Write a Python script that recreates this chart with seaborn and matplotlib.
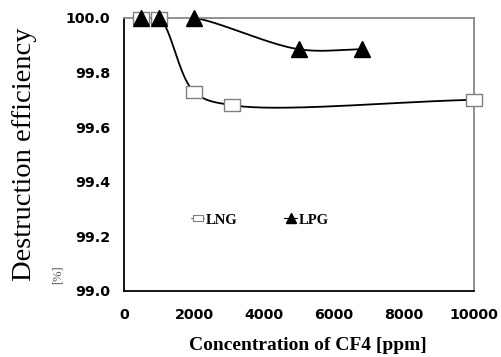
import numpy as np
import pandas as pd
import matplotlib
matplotlib.use("Agg")
import matplotlib.pyplot as plt
import seaborn as sns

# ---- data ----
lng_x = [500, 1000, 2000, 3100, 10000]
lng_y = [100.0, 100.0, 99.73, 99.68, 99.70]
lpg_x = [500, 1000, 2000, 5000, 6800]
lpg_y = [100.0, 100.0, 100.0, 99.885, 99.885]
x_ticks = [0, 2000, 4000, 6000, 8000, 10000]
y_ticks = [99.0, 99.2, 99.4, 99.6, 99.8, 100.0]


def smooth(xs, ys, n=40, alpha=0.5):
    """Centripetal Catmull-Rom spline through the data points (smoothed line)."""
    sx, sy = 350.0 / 10000.0, 273.0
    p = np.column_stack([np.array(xs) * sx, np.array(ys) * sy]).astype(float)
    p = np.vstack([2 * p[0] - p[1], p, 2 * p[-1] - p[-2]])
    out = []
    for i in range(1, len(p) - 2):
        P0, P1, P2, P3 = p[i - 1], p[i], p[i + 1], p[i + 2]
        t0 = 0.0
        t1 = t0 + max(np.linalg.norm(P1 - P0), 1e-6) ** alpha
        t2 = t1 + max(np.linalg.norm(P2 - P1), 1e-6) ** alpha
        t3 = t2 + max(np.linalg.norm(P3 - P2), 1e-6) ** alpha
        t = np.linspace(t1, t2, n)[:, None]
        A1 = (t1 - t) / (t1 - t0) * P0 + (t - t0) / (t1 - t0) * P1
        A2 = (t2 - t) / (t2 - t1) * P1 + (t - t1) / (t2 - t1) * P2
        A3 = (t3 - t) / (t3 - t2) * P2 + (t - t2) / (t3 - t2) * P3
        B1 = (t2 - t) / (t2 - t0) * A1 + (t - t0) / (t2 - t0) * A2
        B2 = (t3 - t) / (t3 - t1) * A2 + (t - t1) / (t3 - t1) * A3
        C = (t2 - t) / (t2 - t1) * B1 + (t - t1) / (t2 - t1) * B2
        out.append(C)
    c = np.vstack(out)
    return c[:, 0] / sx, c[:, 1] / sy


sns.set_theme(style="white")
plt.rcParams['font.family'] = ['DejaVu Sans']
plt.rcParams['text.color'] = 'black'
plt.rcParams['axes.labelcolor'] = 'black'
plt.rcParams['xtick.labelcolor'] = 'black'
plt.rcParams['ytick.labelcolor'] = 'black'

fig = plt.figure(figsize=(5.02, 3.57), dpi=100)
ax = fig.add_axes([0.247, 0.185, 0.697, 0.765])

sq = [(-1.4, -1), (1.4, -1), (1.4, 1), (-1.4, 1), (-1.4, -1)]

for xs, ys in [(lng_x, lng_y), (lpg_x, lpg_y)]:
    cx, cy = smooth(xs, ys)
    d = pd.DataFrame({"x": cx, "y": cy})
    sns.lineplot(data=d, x="x", y="y", sort=False, color="black", lw=1.3, ax=ax,
                 estimator=None, legend=False)

ax.plot(lng_x, lng_y, ls="none", marker=sq, ms=12, mfc="white", mec="#808080",
        mew=1.0, clip_on=False, zorder=5)
ax.plot(lpg_x, lpg_y, ls="none", marker="^", ms=11, mfc="black", mec="black",
        clip_on=False, zorder=6)

# legend handles
h1, = ax.plot([], [], color="#808080", lw=0.8, marker=sq, ms=7, mfc="white", mec="#808080", mew=0.8)
h2, = ax.plot([], [], color="black", lw=0.8, marker="^", ms=7, mfc="black", mec="black")
ax.legend([h1, h2], ["LNG", "LPG"], ncol=2, frameon=False, loc="center left",
          bbox_to_anchor=(0.155, 0.26), handlelength=0.9, handletextpad=0.1,
          columnspacing=3.2, labelcolor="black",
          prop={"family": "Liberation Serif", "weight": "bold", "size": 10.5})

ax.set_xlim(0, 10000)
ax.set_ylim(99.0, 100.0)
ax.set_xticks(x_ticks)
ax.set_yticks(y_ticks)
ax.set_xticklabels([str(v) for v in x_ticks], fontfamily="DejaVu Sans",
                   fontweight="bold", fontsize=10.3)
ax.set_yticklabels([f"{v:.1f}" for v in y_ticks], fontfamily="DejaVu Sans",
                   fontweight="bold", fontsize=10.3)
ax.tick_params(axis="x", direction="in", length=3, color="#999999", width=0.8, pad=12,
               labelcolor="black")
ax.tick_params(axis="y", direction="in", length=3, color="#999999", width=0.8, pad=10,
               labelcolor="black")

for s in ["left", "bottom"]:
    ax.spines[s].set_color("black")
    ax.spines[s].set_linewidth(1.3)
for s in ["top", "right"]:
    ax.spines[s].set_color("#888888")
    ax.spines[s].set_linewidth(1.3)

ax.set_xlabel("Concentration of CF4 [ppm]", fontfamily="Liberation Serif",
              fontweight="bold", fontsize=14, color="black")
ax.xaxis.set_label_coords(0.525, -0.2)
ax.xaxis.label.set_va("center")
ax.set_ylabel("Destruction efficiency", fontfamily="Liberation Serif",
              fontsize=20.5, color="black")
ax.yaxis.set_label_coords(-0.25, 0.5)
fig.text(0.114, 0.23, "[%]", rotation=90, fontsize=9, color="#555555",
         fontfamily="Liberation Serif", ha="center", va="center")

fig.savefig("out.png", dpi=100)
